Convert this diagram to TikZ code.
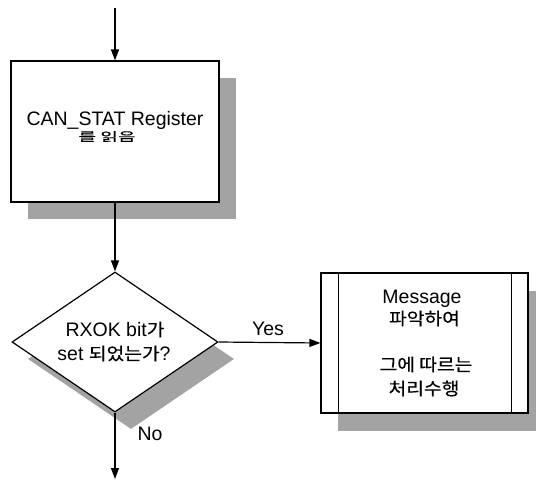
\documentclass[tikz,border=0pt]{standalone}
\usepackage{fontspec}
\setmainfont{Liberation Sans}
\newfontfamily\kr[FakeStretch=1.1,FakeBold=0.3]{Noto Sans CJK KR}
\newfontfamily\krw[FakeStretch=1.6,FakeBold=0.5]{Noto Sans CJK KR}
\usetikzlibrary{shapes.geometric,arrows.meta,calc}
\newcommand\krbig[1]{{\kr\fontsize{17.5}{17.5}\selectfont #1}}
\newcommand\krsmall[1]{{\krw\fontsize{12}{12}\selectfont #1}}
\begin{document}
\begin{tikzpicture}[x=1pt,y=-1pt,
  arr/.style={line width=1.2pt,-{Triangle[length=11pt,width=8pt]}},
  boxstyle/.style={draw,line width=1.2pt,fill=white,rectangle,inner sep=0pt},
  shadebox/.style={fill=black!36,draw=none,rectangle,inner sep=0pt},
  shadedia/.style={fill=black!36,draw=none,diamond,inner sep=0pt},
  txt/.style={font=\fontsize{19.5}{19.5}\selectfont,anchor=base,inner sep=0pt}]
\useasboundingbox (0,0) rectangle (536,480);
% shadows
\node[shadebox,minimum width=208pt,minimum height=141pt] (s1) at (132,148.5) {};
\node[shadedia,minimum width=206pt,minimum height=140pt] (s2) at (131,359) {};
\node[shadebox,minimum width=207pt,minimum height=140pt] (s3) at (441.5,361) {};
% boxes
\node[boxstyle,minimum width=208pt,minimum height=141pt] (b1) at (115,131.5) {};
\node[boxstyle,diamond,minimum width=206pt,minimum height=140pt] (d) at (115,342) {};
\node[boxstyle,minimum width=207pt,minimum height=140pt] (b2) at (424.5,343) {};
\draw[line width=1.2pt] ($(b2.north west)+(18,0)$) -- ($(b2.south west)+(18,0)$);
\draw[line width=1.2pt] ($(b2.north east)+(-17,0)$) -- ($(b2.south east)+(-17,0)$);
% texts
\node[txt] (t1) at (115,125) {CAN\_STAT Register};
\node[txt] (t2) at (107,141) {\krsmall{를 읽음}};
\node[txt] (t3) at (115,336) {RXOK bit\krbig{가}};
\node[txt] (t4) at (114,360) {set \krbig{되었는가}?};
\node[txt] (t5) at (422,303) {Message};
\node[txt] (t6) at (424.5,325) {\krbig{파악하여}};
\node[txt] (t7) at (426,371) {\krbig{그에 따르는}};
\node[txt] (t8) at (424,395) {\krbig{처리수행}};
\node[txt] (yes) at (268,335) {Yes};
\node[txt] (no) at (150,440) {No};
% connectors
\coordinate (top) at (115,8);
\coordinate (bot) at (115,479);
\draw[arr] (top) -- (b1.north);
\draw[arr] (b1.south) -- (d.north);
\draw[arr] (d.east) -- (b2.west);
\draw[arr] (d.south) -- (bot);
\end{tikzpicture}
\end{document}
